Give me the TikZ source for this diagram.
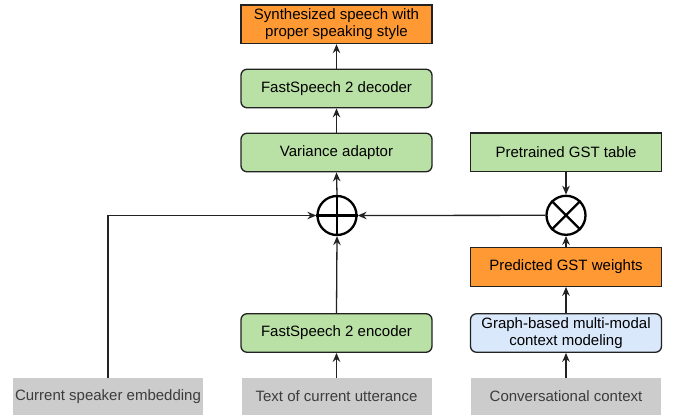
\documentclass[tikz,border=0pt]{standalone}
\usepackage{fontspec}
\setmainfont{Liberation Sans}
\usetikzlibrary{arrows.meta}
\definecolor{orangefill}{HTML}{FF9933}
\definecolor{greenfill}{HTML}{B9E0A5}
\definecolor{bluefill}{HTML}{DAE8FC}
\definecolor{greyfill}{HTML}{CCCCCC}
\definecolor{linegrey}{HTML}{222222}
\definecolor{textgrey}{HTML}{3C3C3C}
\tikzset{
  base/.style={draw=linegrey, line width=1.3pt, minimum width=191pt, align=center,
    font=\fontsize{15}{17.5}\selectfont, text=black, inner sep=0pt, line join=miter},
  sharpbox/.style={base, minimum height=38.5pt},
  roundbox/.style={base, rounded corners=6pt, minimum height=38.5pt},
  inbox/.style={fill=greyfill, minimum width=190pt, minimum height=37pt, inner sep=0pt,
    font=\fontsize{15}{17.5}\selectfont, text=textgrey},
  op/.style={circle, draw=black, line width=2.3pt, minimum size=39pt, inner sep=0pt},
  arr/.style={draw=linegrey, line width=1.3pt, -{Stealth[length=9pt,width=7.5pt,inset=3pt]}},
}
\begin{document}
\begin{tikzpicture}[x=1pt,y=-1pt]
\useasboundingbox (0,0) rectangle (675,415);
% top column
\node[sharpbox, fill=orangefill] (synth) at (336.5,24.3) {Synthesized speech with\\proper speaking style};
\node[roundbox, fill=greenfill] (dec) at (336.5,88.5) {FastSpeech 2 decoder};
\node[roundbox, fill=greenfill] (var) at (336.5,152.5) {Variance adaptor};
\node[op] (plus) at (337,215.5) {};
\node[roundbox, fill=greenfill] (enc) at (336.5,333) {FastSpeech 2 encoder};
% right column
\node[sharpbox, fill=greenfill] (gst) at (566,152.2) {Pretrained GST table};
\node[op] (cross) at (566,215.3) {};
\node[sharpbox, fill=orangefill] (pred) at (566,267) {Predicted GST weights};
\node[roundbox, fill=bluefill] (ctx) at (566,333) {Graph-based multi-modal\\context modeling};
% inputs
\node[inbox] (spk) at (108,396.5) {Current speaker embedding};
\node[inbox] (txt) at (336.5,396.5) {Text of current utterance};
\node[inbox] (conv) at (566,396.5) {Conversational context};
% operator marks
\draw[line width=2.3pt] (plus.north) -- (plus.south) (plus.west) -- (plus.east);
\draw[line width=2.3pt] (cross.north west) -- (cross.south east) (cross.north east) -- (cross.south west);
% connectors
\draw[arr] (dec.north) -- (synth.south);
\draw[arr] (var.north) -- (dec.south);
\draw[arr] (plus.north) -- (var.south);
\draw[arr] (enc.north) -- (plus.south);
\draw[arr] (txt.north) -- (enc.south);
\draw[arr] (spk.north) |- (plus.west);
\draw[arr] (cross.west) -- (plus.east);
\draw[arr] (gst.south) -- (cross.north);
\draw[arr] (pred.north) -- (cross.south);
\draw[arr] (ctx.north) -- (pred.south);
\draw[arr] (conv.north) -- (ctx.south);
\end{tikzpicture}
\end{document}
